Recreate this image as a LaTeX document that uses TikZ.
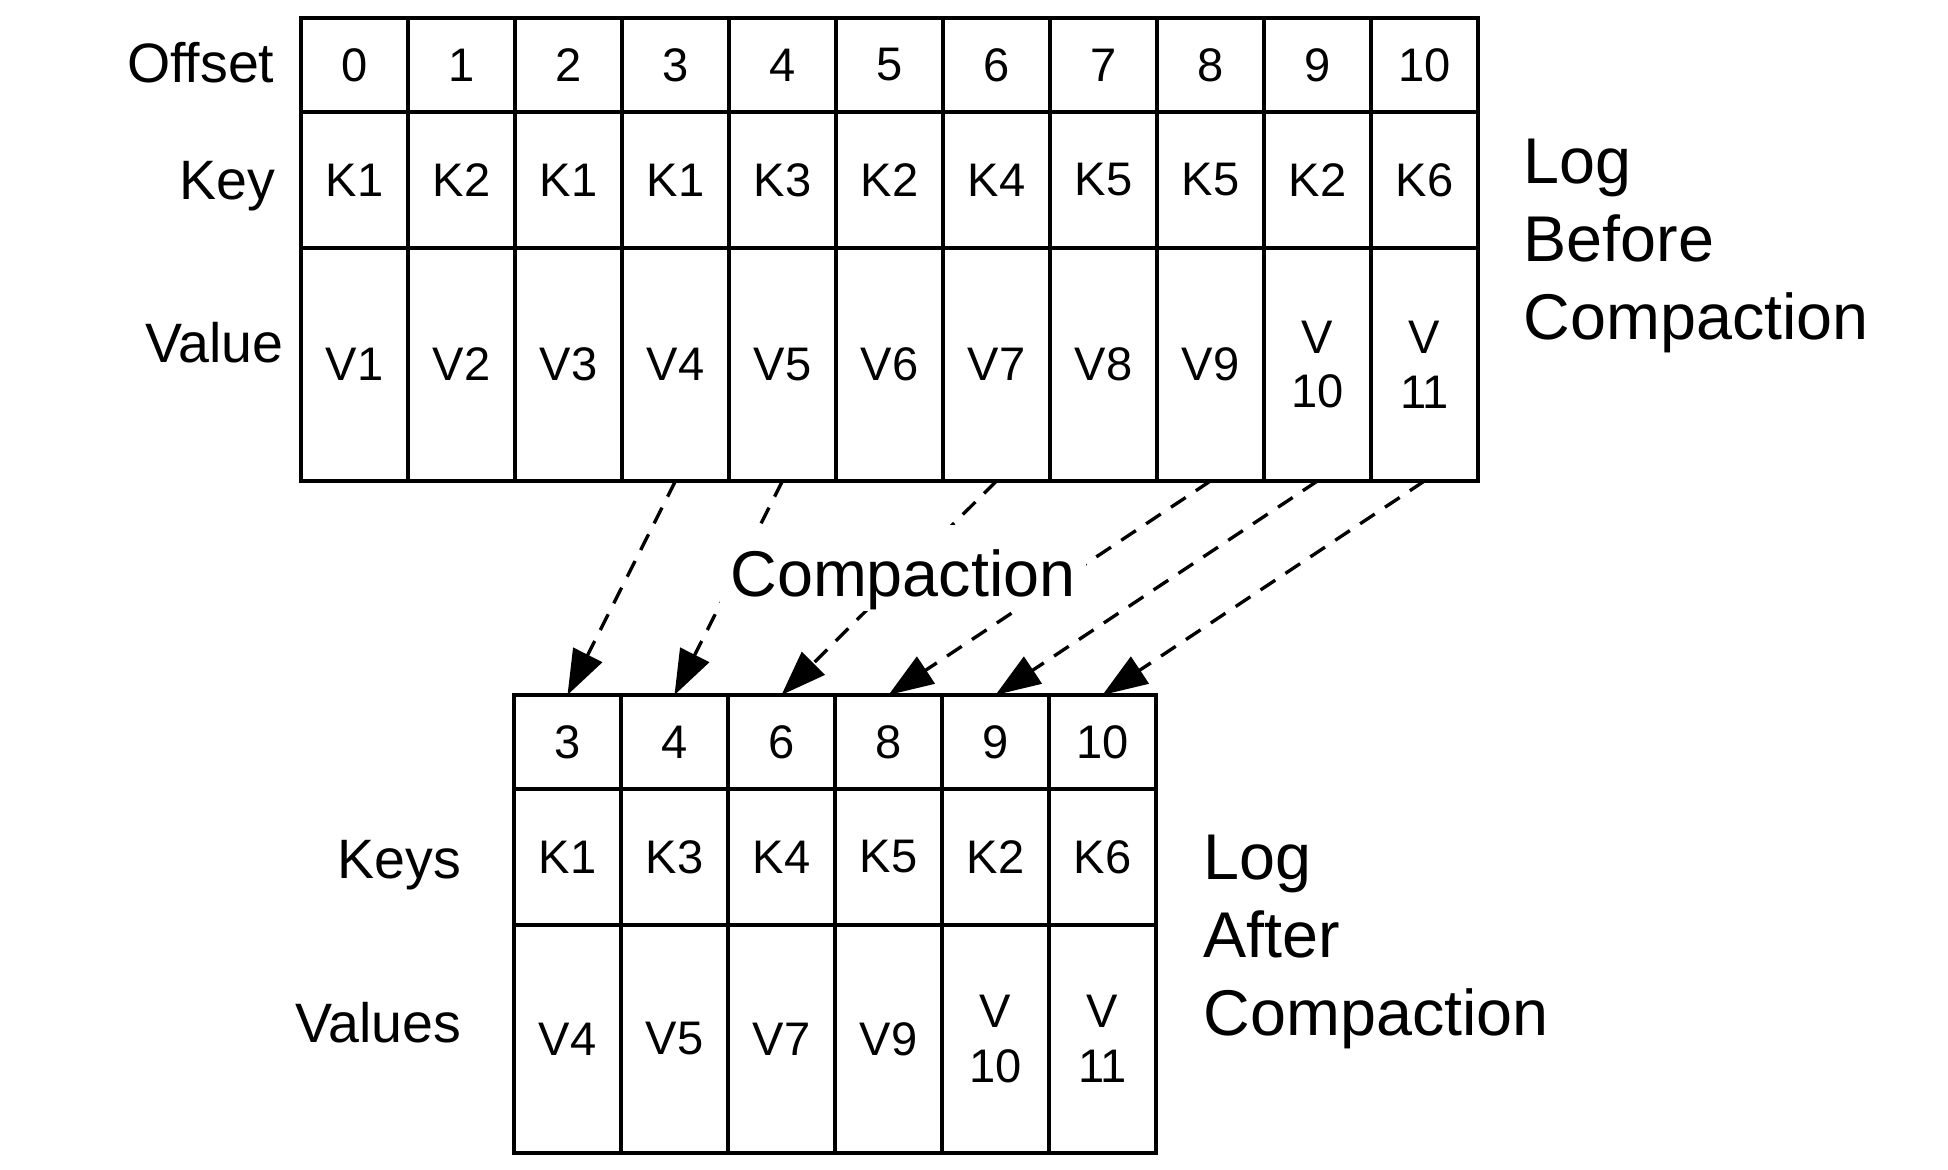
\documentclass[tikz,border=0pt]{standalone}
\usepackage{fontspec}
\setmainfont{Liberation Sans}
\usetikzlibrary{arrows.meta, positioning}
\newcommand{\cellfnt}{\fontsize{13.4}{15.6}\selectfont}
\newcommand{\rowfnt}{\fontsize{15.8}{18}\selectfont}
\newcommand{\logfnt}{\fontsize{18.4}{22.2}\selectfont}

\begin{document}
\begin{tikzpicture}[>={Triangle[length=0.45cm, width=0.32cm]}, line width=0.95pt,
  cell/.style={draw, inner sep=0pt, outer sep=0pt, minimum width=1.07cm, align=center, font=\cellfnt},
  offcell/.style={cell, minimum height=0.94cm},
  keycell/.style={cell, minimum height=1.36cm},
  valcell/.style={cell, minimum height=2.33cm},
  rowlabel/.style={anchor=base east, inner sep=0pt, font=\rowfnt},
  loglabel/.style={anchor=north west, inner sep=0pt, align=left, font=\logfnt},
  compactarrow/.style={->, dash pattern=on 5pt off 3.5pt}]

% Background
\fill[white] (0,0) rectangle (19.48,11.70);

% Log before compaction: offsets
\node[offcell] (off0) at (3.545,11.05) {0};
\node[offcell] (off1) at (4.615,11.05) {1};
\node[offcell] (off2) at (5.685,11.05) {2};
\node[offcell] (off3) at (6.755,11.05) {3};
\node[offcell] (off4) at (7.825,11.05) {4};
\node[offcell] (off5) at (8.895,11.05) {5};
\node[offcell] (off6) at (9.965,11.05) {6};
\node[offcell] (off7) at (11.035,11.05) {7};
\node[offcell] (off8) at (12.105,11.05) {8};
\node[offcell] (off9) at (13.175,11.05) {9};
\node[offcell] (off10) at (14.245,11.05) {10};

% Log before compaction: keys
\node[keycell] (key0) at (3.545,9.90) {K1};
\node[keycell] (key1) at (4.615,9.90) {K2};
\node[keycell] (key2) at (5.685,9.90) {K1};
\node[keycell] (key3) at (6.755,9.90) {K1};
\node[keycell] (key4) at (7.825,9.90) {K3};
\node[keycell] (key5) at (8.895,9.90) {K2};
\node[keycell] (key6) at (9.965,9.90) {K4};
\node[keycell] (key7) at (11.035,9.90) {K5};
\node[keycell] (key8) at (12.105,9.90) {K5};
\node[keycell] (key9) at (13.175,9.90) {K2};
\node[keycell] (key10) at (14.245,9.90) {K6};

% Log before compaction: values
\node[valcell] (val0) at (3.545,8.055) {V1};
\node[valcell] (val1) at (4.615,8.055) {V2};
\node[valcell] (val2) at (5.685,8.055) {V3};
\node[valcell] (val3) at (6.755,8.055) {V4};
\node[valcell] (val4) at (7.825,8.055) {V5};
\node[valcell] (val5) at (8.895,8.055) {V6};
\node[valcell] (val6) at (9.965,8.055) {V7};
\node[valcell] (val7) at (11.035,8.055) {V8};
\node[valcell] (val8) at (12.105,8.055) {V9};
\node[valcell] (val9) at (13.175,8.055) {V\\10};
\node[valcell] (val10) at (14.245,8.055) {V\\11};

% Row labels (before)
\node[rowlabel] (offlabel) at (2.76,10.87) {Offset};
\node[rowlabel] (keylabel) at (2.77,9.70) {Key};
\node[rowlabel] (vallabel) at (2.85,8.07) {Value};
\node[loglabel] (beforelabel) at (15.22,10.33) {Log\\Before\\Compaction};

% Log after compaction: offsets
\node[offcell] (noff1) at (5.675,4.28) {3};
\node[offcell] (noff2) at (6.745,4.28) {4};
\node[offcell] (noff3) at (7.815,4.28) {6};
\node[offcell] (noff4) at (8.885,4.28) {8};
\node[offcell] (noff5) at (9.955,4.28) {9};
\node[offcell] (noff6) at (11.025,4.28) {10};

% Log after compaction: keys
\node[keycell] (nkey1) at (5.675,3.13) {K1};
\node[keycell] (nkey2) at (6.745,3.13) {K3};
\node[keycell] (nkey3) at (7.815,3.13) {K4};
\node[keycell] (nkey4) at (8.885,3.13) {K5};
\node[keycell] (nkey5) at (9.955,3.13) {K2};
\node[keycell] (nkey6) at (11.025,3.13) {K6};

% Log after compaction: values
\node[valcell, minimum height=2.28cm] (nval1) at (5.675,1.31) {V4};
\node[valcell, minimum height=2.28cm] (nval2) at (6.745,1.31) {V5};
\node[valcell, minimum height=2.28cm] (nval3) at (7.815,1.31) {V7};
\node[valcell, minimum height=2.28cm] (nval4) at (8.885,1.31) {V9};
\node[valcell, minimum height=2.28cm] (nval5) at (9.955,1.31) {V\\10};
\node[valcell, minimum height=2.28cm] (nval6) at (11.025,1.31) {V\\11};

% Row labels (after)
\node[rowlabel] (nkeylabel) at (4.63,2.91) {Keys};
\node[rowlabel] (nvallabel) at (4.63,1.27) {Values};
\node[loglabel] (afterlabel) at (12.02,3.37) {Log\\After\\Compaction};

% Surviving records
\draw[compactarrow] (val3.south) -- (noff1.north);
\draw[compactarrow] (val4.south) -- (noff2.north);
\draw[compactarrow] (val6.south) -- (noff3.north);
\draw[compactarrow] (val8.south) -- (noff4.north);
\draw[compactarrow] (val9.south) -- (noff5.north);
\draw[compactarrow] (val10.south) -- (noff6.north);

% Middle label, masks the arrows behind it
\node[fill=white, anchor=base, inner xsep=0.1cm, inner ysep=0pt, text height=0.72cm, text depth=0.14cm, font=\logfnt] (compaction) at (9.03,5.73) {Compaction};

\end{tikzpicture}
\end{document}
